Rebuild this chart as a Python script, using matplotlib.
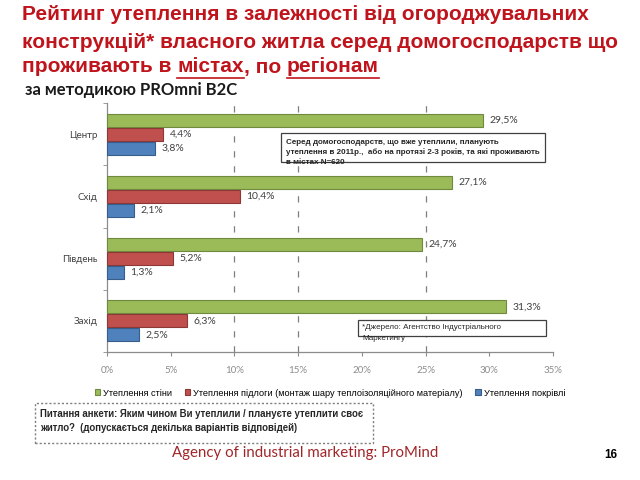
import matplotlib
matplotlib.use('Agg')
import matplotlib.pyplot as plt
from matplotlib.patches import Rectangle
from matplotlib.lines import Line2D
import numpy as np

regions = ['Центр', 'Схід', 'Південь', 'Захід']
walls = [29.5, 27.1, 24.7, 31.3]
floors = [4.4, 10.4, 5.2, 6.3]
roofs = [3.8, 2.1, 1.3, 2.5]
series_names = ['Утеплення стіни',
                'Утеплення підлоги (монтаж шару теплоізоляційного матеріалу)',
                'Утеплення покрівлі']
xticks = [0, 5, 10, 15, 20, 25, 30, 35]
dashed_at = [10, 15, 25]

colors = ['#9BBB59', '#C0504D', '#4F81BD']
edges = ['#71893F', '#8C3836', '#385D8A']
title_red = '#C0141C'


def fx(x):
    return x / 640


def fy(y):
    return 1 - y / 480


fig = plt.figure(figsize=(6.4, 4.8), dpi=100)
ax = fig.add_axes([fx(107), fy(352), fx(553) - fx(107), fy(103) - fy(352)])

y = np.arange(len(regions))
h = 0.21
off = 0.225
for k, vals in enumerate([walls, floors, roofs]):
    pos = y + (k - 1) * off
    ax.barh(pos, vals, height=h, color=colors[k], edgecolor=edges[k],
            linewidth=0.8, label=series_names[k], zorder=3)
    for p, v in zip(pos, vals):
        ax.text(v + 0.5, p, f'{v:.1f}%'.replace('.', ','), va='center',
                ha='left', fontsize=7.5, color='#404040', family='Lato')

for d in dashed_at:
    ax.axvline(d, color='#7F7F7F', lw=0.9, ls=(0, (5, 7)), zorder=1)

ax.set_xlim(0, 35)
ax.set_ylim(3.5, -0.5)
ax.set_xticks(xticks)
ax.set_xticklabels([f'{t}%' for t in xticks], fontsize=7, color='#8C8C8C',
                   family='Lato')
ax.set_yticks(y)
ax.set_yticklabels(regions, fontsize=7, color='#404040', family='Lato')
ax.set_yticks(np.arange(len(regions) + 1) - 0.5, minor=True)
ax.tick_params(axis='y', which='major', length=0, pad=7)
ax.tick_params(axis='y', which='minor', length=3, color='#8C8C8C',
               direction='out')
ax.tick_params(axis='x', length=3, color='#8C8C8C', pad=7)
for s in ['top', 'right']:
    ax.spines[s].set_visible(False)
for s in ['left', 'bottom']:
    ax.spines[s].set_color('#8C8C8C')
    ax.spines[s].set_linewidth(0.9)

# legend
handles, labels = ax.get_legend_handles_labels()
fig.legend(handles, labels, loc='center', bbox_to_anchor=(fx(330), fy(393)),
           ncol=3, frameon=False, handlelength=0.6,
           handleheight=0.6, handletextpad=0.3, columnspacing=1.4,
           prop={'family': 'Liberation Sans', 'size': 6.6})

# title
tkw = dict(color=title_red, fontsize=15.0, fontweight='bold',
           family='Liberation Sans', va='center', ha='left')
fig.text(fx(22), fy(15), 'Рейтинг утеплення в залежності від огороджувальних', **tkw)
fig.text(fx(22), fy(42), 'конструкцій* власного житла серед домогосподарств що', **tkw)
pieces = [('проживають в ', False), ('містах', True), (', по ', False),
          ('регіонам', True)]
renderer = fig.canvas.get_renderer()
xcur = fx(22)
for txt, ul in pieces:
    t = fig.text(xcur, fy(67), txt, **tkw)
    bb = t.get_window_extent(renderer).transformed(fig.transFigure.inverted())
    if ul:
        fig.add_artist(Line2D([bb.x0, bb.x1], [fy(77.5), fy(77.5)],
                              color=title_red, lw=1.2,
                              transform=fig.transFigure))
    xcur = bb.x1

fig.text(fx(25), fy(90), 'за методикою PROmni B2C', fontsize=12,
         fontweight='bold', family='Lato', va='center', ha='left',
         color='#1A1A1A')

# note boxes
fig.add_artist(Rectangle((fx(281), fy(162)), fx(545) - fx(281),
                         fy(133) - fy(162), transform=fig.transFigure,
                         facecolor='white', edgecolor='#404040', lw=0.9,
                         zorder=5))
nkw = dict(fontsize=5.8, family='Liberation Sans', va='center', ha='left',
           color='#262626', zorder=6)
fig.text(fx(286), fy(142), 'Серед домогосподарств, що вже утеплили, планують',
         fontweight='bold', **nkw)
fig.text(fx(286), fy(152), 'утеплення в 2011р.,  або на протязі 2-3 років, та які проживають',
         fontweight='bold', **nkw)
fig.text(fx(286), fy(162), 'в містах N=620', fontweight='bold', **nkw)

fig.add_artist(Rectangle((fx(358), fy(336)), fx(546) - fx(358),
                         fy(320) - fy(336), transform=fig.transFigure,
                         facecolor='white', edgecolor='#404040', lw=0.9,
                         zorder=5))
fig.text(fx(362), fy(327), '*Джерело: Агентство Індустріального', **nkw)
fig.text(fx(362), fy(338), 'Маркетингу', **nkw)

# question box
fig.add_artist(Rectangle((fx(35), fy(443)), fx(373) - fx(35),
                         fy(403) - fy(443), transform=fig.transFigure,
                         facecolor='none', edgecolor='#7F7F7F', lw=1.0,
                         ls=(0, (1.5, 1.5))))
qkw = dict(fontsize=6.9, family='Liberation Sans', fontweight='bold',
           va='center', ha='left', color='#262626')
fig.text(fx(40), fy(414), 'Питання анкети: Яким чином Ви утеплили / плануєте утеплити своє', **qkw)
fig.text(fx(40), fy(428), 'житло?  (допускається декілька варіантів відповідей)', **qkw)

fig.text(fx(305), fy(453), 'Agency of industrial marketing: ProMind',
         fontsize=10.8, family='Lato', color='#A0262A', ha='center',
         va='center')
fig.text(fx(611), fy(455), '16', fontsize=8.5, fontweight='bold',
         family='Liberation Sans', ha='center', va='center')

fig.savefig('out.png', dpi=100)
